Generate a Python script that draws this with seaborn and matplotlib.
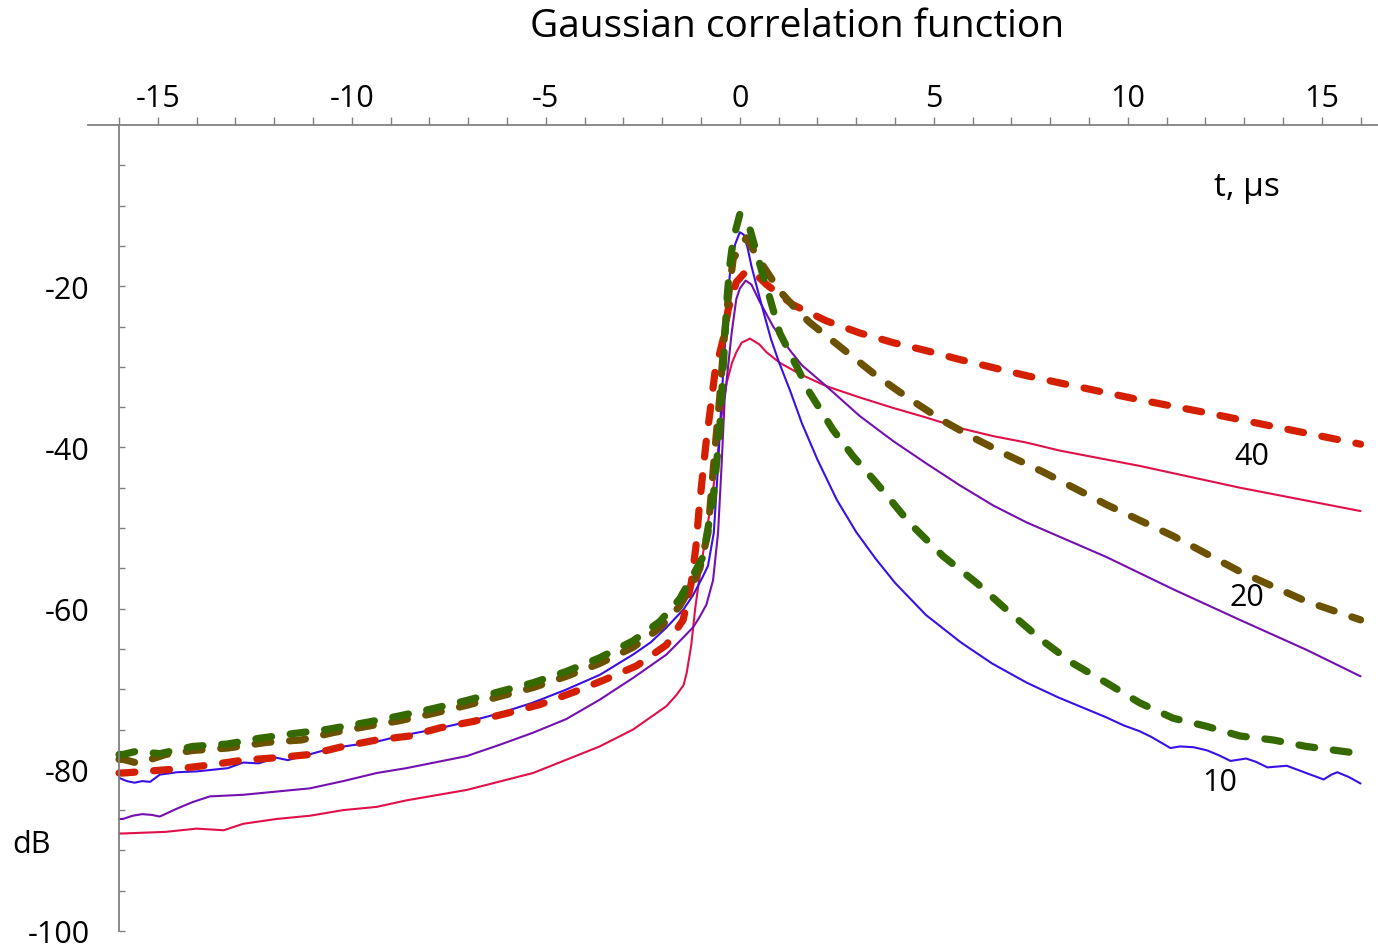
import matplotlib
matplotlib.use("Agg")
import matplotlib.pyplot as plt
import seaborn as sns
from matplotlib.ticker import FixedLocator

sns.set_theme(style="white")
plt.rcParams["font.family"] = ["Open Sans", "DejaVu Sans"]
plt.rcParams["axes.unicode_minus"] = False

# ---------------- data ----------------
# solid, 10
t_s10 = [-16.0, -15.8, -15.6, -15.4, -15.2, -14.95, -14.5, -14.0, -13.6, -13.2, -12.8, -12.4,
         -11.95, -11.65, -11.1, -10.65, -10.2, -9.35, -8.75, -8.0, -7.05, -6.2, -5.35, -4.5,
         -3.6, -2.75, -2.3, -1.9, -1.45, -1.2, -0.95, -0.82, -0.67, -0.56, -0.47, -0.39, -0.26,
         -0.12, 0.0, 0.1, 0.2, 0.3, 0.45, 0.6, 0.8, 1.0, 1.3, 1.6, 2.0, 2.5, 3.0, 3.5, 4.0, 4.8,
         5.7, 6.5, 7.4, 8.2, 9.0, 9.45, 9.9, 10.3, 10.6, 11.1, 11.35, 11.7, 12.05, 12.35, 12.65,
         13.05, 13.3, 13.6, 14.1, 14.6, 15.05, 15.25, 15.4, 15.7, 16.0]
db_s10 = [-81.0, -81.4, -81.6, -81.4, -81.5, -80.6, -80.3, -80.2, -80.0, -79.8, -79.1, -79.2,
          -78.5, -78.8, -78.1, -77.5, -77.1, -76.5, -75.8, -75.1, -74.1, -73.0, -71.7, -70.1,
          -68.2, -65.7, -64.2, -62.4, -60.1, -58.3, -56.0, -54.7, -50.6, -42.3, -34.0, -27.8, -18.7,
          -14.8, -13.3, -13.6, -15.2, -17.5, -20.3, -23.0, -26.5, -29.3, -33.0, -37.0, -41.5, -46.5,
          -50.5, -53.8, -56.8, -60.8, -64.2, -66.8, -69.2, -71.0, -72.6, -73.5, -74.5, -75.2, -75.9,
          -77.3, -77.1, -77.2, -77.6, -78.2, -78.9, -78.6, -79.0, -79.7, -79.5, -80.4, -81.2, -80.6,
          -80.3, -80.9, -81.7]

# solid, 20
t_s20 = [-16.0, -15.9, -15.65, -15.4, -15.15, -14.95, -14.5, -14.1, -13.66, -12.8, -11.94, -11.08,
         -10.22, -9.36, -8.6, -7.04, -6.19, -5.33, -4.47, -3.61, -2.75, -1.89, -1.46, -1.2, -1.03,
         -0.86, -0.69, -0.56, -0.47, -0.39, -0.3, -0.21, -0.09, 0.0, 0.15, 0.3, 0.5, 0.86, 1.3, 1.6,
         2.23, 3.09, 3.95, 4.81, 5.67, 6.53, 7.39, 8.25, 9.45, 11.17, 12.89, 14.6, 16.0]
db_s20 = [-86.1, -86.1, -85.7, -85.5, -85.6, -85.8, -84.8, -84.0, -83.3, -83.1, -82.7, -82.3,
          -81.4, -80.4, -79.8, -78.3, -76.9, -75.4, -73.7, -71.3, -68.6, -65.7, -63.6, -62.3, -61.0,
          -59.5, -56.5, -50.6, -42.3, -34.0, -29.9, -25.8, -21.6, -20.3, -19.3, -19.8, -21.8, -25.0,
          -28.0, -29.8, -32.4, -36.1, -39.2, -42.0, -44.7, -47.2, -49.3, -51.1, -53.6, -57.6, -61.4,
          -65.1, -68.4]

# solid, 40
t_s40 = [-16.0, -15.9, -14.8, -14.0, -13.3, -12.8, -11.94, -11.08, -10.22, -9.36, -8.6, -7.04,
         -5.33, -3.61, -2.75, -1.89, -1.63, -1.45, -1.37, -1.25, -1.15, -1.05, -0.99, -0.86, -0.73,
         -0.6, -0.47, -0.34, -0.2, -0.09, 0.05, 0.26, 0.5, 0.69, 1.03, 1.55, 2.23, 3.09, 3.95, 4.81,
         5.67, 6.53, 7.39, 8.25, 10.31, 12.89, 16.0]
db_s40 = [-87.9, -87.9, -87.7, -87.3, -87.5, -86.7, -86.1, -85.7, -85.0, -84.6, -83.8, -82.5,
          -80.4, -77.1, -75.0, -72.1, -70.7, -69.5, -68.0, -64.5, -60.0, -56.5, -54.4, -50.6, -46.5,
          -42.3, -36.1, -32.0, -29.5, -28.2, -27.0, -26.5, -27.2, -28.2, -29.5, -30.9, -32.4, -33.8,
          -35.1, -36.3, -37.6, -38.6, -39.4, -40.4, -42.3, -45.0, -47.9]

# dashed, 40
t_d40 = [-16.0, -15.9, -14.52, -13.66, -12.8, -11.94, -11.08, -10.22, -9.36, -8.5, -7.73, -6.87,
         -6.01, -5.15, -4.3, -3.52, -2.66, -1.89, -1.46, -1.25, -1.13, -1.05, -0.96, -0.86, -0.77,
         -0.64, -0.43, -0.3, -0.09, 0.17, 0.52, 0.69, 1.37, 2.23, 3.09, 3.95, 4.81, 5.67, 6.53,
         7.39, 8.25, 10.31, 12.03, 13.75, 16.0]
db_d40 = [-80.4, -80.4, -79.9, -79.4, -78.8, -78.5, -78.1, -77.1, -76.3, -75.8, -74.8, -74.0,
          -73.0, -71.9, -70.4, -68.9, -67.1, -64.5, -61.4, -56.8, -52.3, -47.7, -43.5, -39.0, -35.7,
          -30.7, -26.6, -22.9, -19.5, -18.1, -19.0, -19.8, -22.3, -24.3, -25.8, -27.0, -28.0, -29.1,
          -30.1, -31.1, -32.0, -34.1, -35.7, -37.4, -39.6]

# dashed, 20
t_d20 = [-16.0, -15.9, -15.5, -14.8, -14.1, -13.2, -12.2, -11.3, -10.5, -9.6, -8.76, -7.9, -7.04,
         -6.19, -5.33, -4.47, -3.61, -2.75, -2.06, -1.55, -1.2, -1.03, -0.82, -0.69, -0.6, -0.52,
         -0.39, -0.3, -0.17, 0.17, 0.52, 1.03, 1.46, 1.8, 2.66, 3.52, 4.38, 5.24, 6.1, 6.96, 7.8,
         9.45, 11.17, 12.89, 14.6, 16.0]
db_d20 = [-78.7, -78.7, -79.2, -78.1, -77.6, -77.3, -76.6, -76.3, -75.4, -74.6, -73.9, -73.0,
          -72.0, -70.9, -69.8, -68.4, -66.8, -64.8, -62.4, -59.7, -56.8, -55.0, -50.6, -43.1, -38.1,
          -34.0, -25.8, -21.6, -16.6, -14.0, -16.9, -20.6, -22.9, -24.5, -27.8, -31.1, -34.0, -36.7,
          -39.0, -41.1, -43.0, -47.1, -51.0, -55.4, -59.1, -61.4]

# dashed, 10
t_d10 = [-16.0, -15.9, -15.55, -14.95, -14.1, -13.2, -12.4, -11.5, -10.65, -9.6, -8.76, -7.9,
         -7.04, -6.19, -5.33, -4.47, -3.61, -2.75, -2.06, -1.55, -1.2, -0.95, -0.69, -0.52, -0.33,
         -0.26, -0.17, 0.0, 0.26, 0.6, 0.77, 1.03, 1.46, 1.8, 2.4, 2.92, 3.52, 4.38, 5.24, 6.1,
         6.96, 7.78, 8.59, 9.45, 10.31, 11.17, 12.03, 12.89, 13.75, 14.6, 16.0]
db_d10 = [-78.1, -78.1, -77.7, -78.0, -77.1, -76.8, -76.1, -75.5, -75.0, -74.1, -73.3, -72.4,
          -71.4, -70.3, -69.2, -67.8, -66.1, -64.0, -61.6, -58.8, -55.8, -53.6, -46.5, -38.1, -21.6,
          -17.5, -14.2, -11.1, -12.9, -18.7, -21.4, -25.8, -29.9, -33.2, -37.8, -41.1, -44.4, -49.4,
          -53.5, -56.8, -60.5, -63.9, -66.8, -69.2, -71.7, -73.6, -74.6, -75.8, -76.3, -77.1, -78.0]

x_major = [-15, -10, -5, 0, 5, 10, 15]
x_labels = ["-15", "-10", "-5", "0", "5", "10", "15"]
y_major = [-100, -80, -60, -40, -20]
y_labels = ["-100", "-80", "-60", "-40", "-20"]
curve_labels = ["40", "20", "10"]
curve_label_pos = [(13.2, -41.1), (13.07, -58.6), (12.37, -81.5)]

# ---------------- drawing ----------------
fig = plt.figure(figsize=(13.78, 9.45), dpi=100)
ax = fig.add_axes([88 / 1378, 13 / 945, 1290 / 1378, 806 / 945])

dash = (0, (2.2, 2.6))
series = [
    (t_s40, db_s40, "#E0104A", "-", 1.5),
    (t_s20, db_s20, "#7410B0", "-", 1.5),
    (t_s10, db_s10, "#3A10E6", "-", 1.5),
    (t_d40, db_d40, "#D42000", dash, 5.2),
    (t_d20, db_d20, "#6B5100", dash, 5.2),
    (t_d10, db_d10, "#356A00", dash, 5.2),
]
for t, db, col, ls, lw in series:
    sns.lineplot(x=t, y=db, ax=ax, color=col, linestyle=ls, linewidth=lw,
                 estimator=None, sort=False, dash_capstyle="round",
                 solid_capstyle="round", solid_joinstyle="round")

ax.set_xlim(-16.8, 16.45)
ax.set_ylim(-100, 0)
ax.set_xlabel("")
ax.set_ylabel("")
ax.grid(False)

for s in ["bottom", "right"]:
    ax.spines[s].set_visible(False)
ax.spines["left"].set_position(("data", -16))
for s in ["left", "top"]:
    ax.spines[s].set_color("#808080")
    ax.spines[s].set_linewidth(1.3)

ax.xaxis.tick_top()
ax.xaxis.set_major_locator(FixedLocator(x_major))
ax.xaxis.set_minor_locator(FixedLocator(list(range(-16, 17))))
ax.set_xticklabels(x_labels)
ax.tick_params(axis="x", which="both", direction="out", length=5.8, width=1.0,
               color="#808080", labelcolor="black", labelsize=22, pad=3,
               top=True, bottom=False, labeltop=True, labelbottom=False)

ax.yaxis.set_major_locator(FixedLocator(y_major))
ax.yaxis.set_minor_locator(FixedLocator(list(range(-95, 0, 5))))
ax.set_yticklabels(y_labels)
ax.tick_params(axis="y", which="both", direction="in", length=4.3, width=1.0,
               color="#808080", labelcolor="black", labelsize=22, pad=21,
               left=True, right=False)

for lab, (xx, yy) in zip(curve_labels, curve_label_pos):
    ax.text(xx, yy, lab, ha="center", va="center", fontsize=22, color="black")

fig.text(797 / 1378, 1 - 27 / 945, "Gaussian correlation function", ha="center",
         va="center", fontsize=28, color="black")
fig.text(1247 / 1378, 1 - 188 / 945, "t, μs", ha="center", va="center",
         fontsize=24, color="black")
fig.text(32 / 1378, 1 - 845 / 945, "dB", ha="center", va="center",
         fontsize=22, color="black")

fig.savefig("out.png", dpi=100)
